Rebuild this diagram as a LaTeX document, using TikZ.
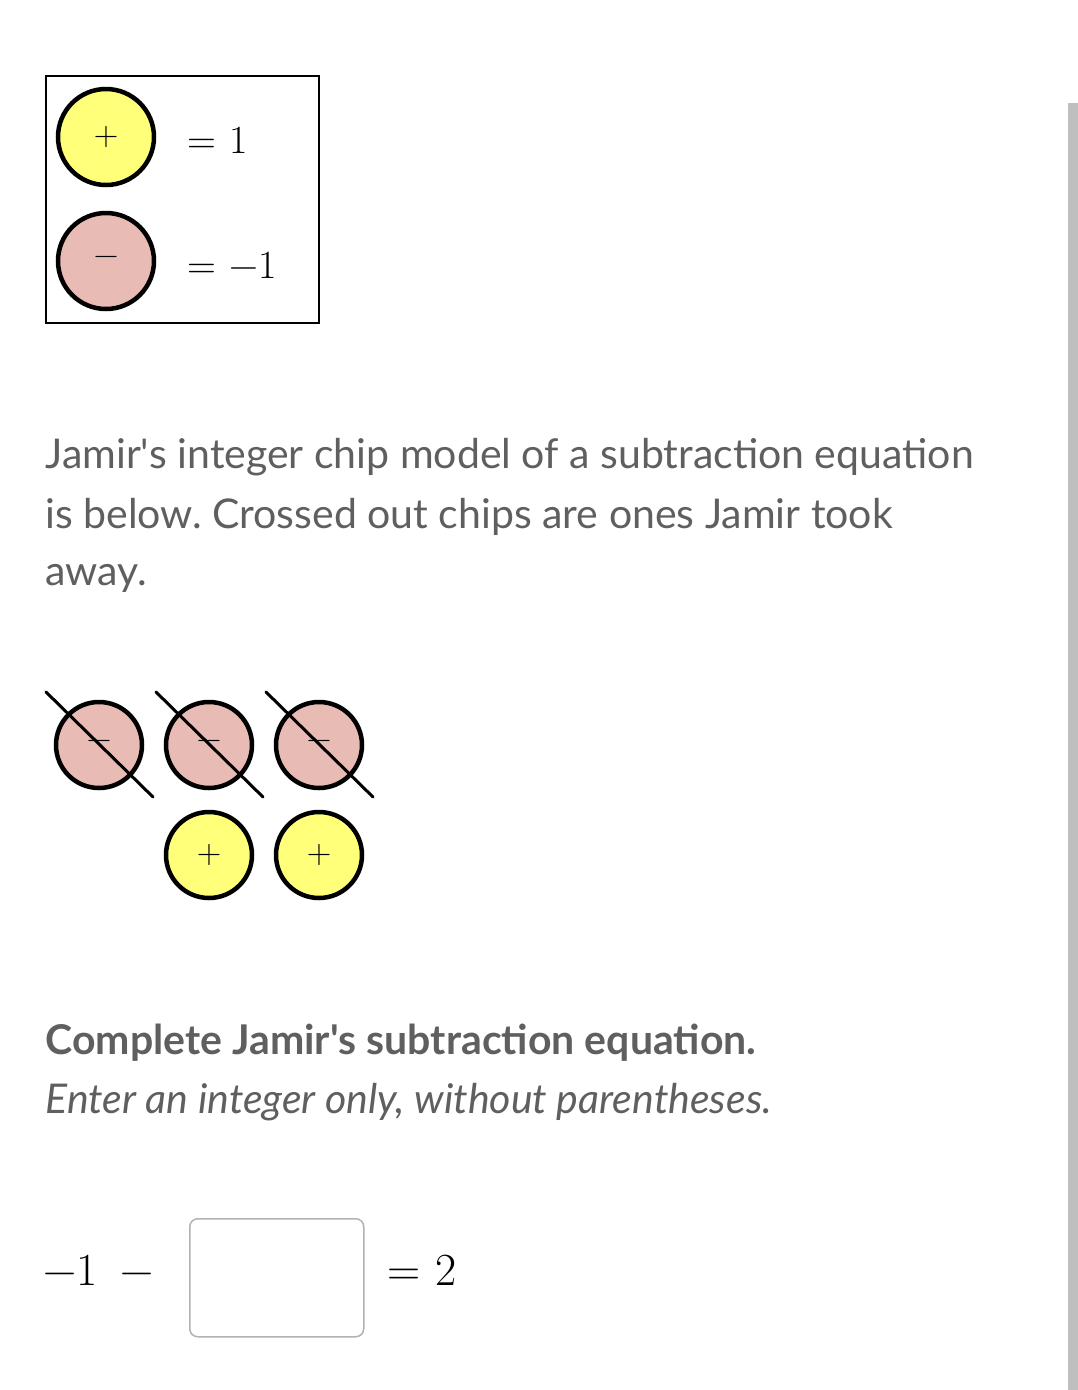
\documentclass[tikz,border=0pt]{standalone}
\usepackage{fontspec}
\setmainfont{Lato}
\newfontfamily\lmr{Latin Modern Roman}
\frenchspacing
\begin{document}
\begin{tikzpicture}[x=1pt,y=-1pt,
  chip/.style={circle,draw=black,line width=4.5pt,minimum size=#1,inner sep=0pt,font=\lmr\fontsize{34}{36}\selectfont},
  pos/.style={chip=#1,fill=yellowchip},
  neg/.style={chip=#1,fill=pinkchip},
  txt/.style={anchor=base west,text=txtgray,font=\fontsize{41}{48}\selectfont},
  cross/.style={line width=3pt,line cap=round}]
\definecolor{yellowchip}{HTML}{FFFF7A}
\definecolor{pinkchip}{HTML}{E8BBB5}
\definecolor{txtgray}{HTML}{5F5F5F}
\useasboundingbox (0,0) rectangle (1078,1390);
\fill[white] (0,0) rectangle (1078,1390);
\fill[gray!50] (1068,103) rectangle (1078,1390);
% legend
\node[draw=black,line width=1.5pt,minimum width=273pt,minimum height=247pt,anchor=north west] (legend) at (45,75) {};
\node[pos=96pt] (lp) at (106,137) {+};
\node[neg=96pt] (ln) at (106,261) {−};
\node[anchor=base west,font=\lmr\fontsize{40}{44}\selectfont] (lpt) at (184,153) {=\,\,1};
\node[anchor=base west,font=\lmr\fontsize{40}{44}\selectfont] (lnt) at (184,278) {=\,\,−1};
% text
\node[txt] (t1) at (42,468) {Jamir\textquotesingle s integer chip model of a subtraction equation};
\node[txt] (t2) at (42,528) {is below. Crossed out chips are ones Jamir took};
\node[txt] (t3) at (42,585) {away.};
% chips
\foreach \i/\x in {1/99,2/209,3/319}{
  \node[neg=86pt] (n\i) at (\x,745) {−};
  \draw[cross] (\x-53,692) -- (\x+54,797);
}
\node[pos=86pt] (p1) at (209,855) {+};
\node[pos=86pt] (p2) at (319,855) {+};
% question
\node[txt,font=\bfseries\fontsize{41}{48}\selectfont] (q1) at (42,1054) {Complete Jamir\textquotesingle s subtraction equation.};
\node[txt,font=\itshape\fontsize{41}{48}\selectfont] (q2) at (42,1113) {Enter an integer only, without parentheses.};
\node[anchor=base west,font=\lmr\fontsize{46}{50}\selectfont] (e1) at (40,1285) {−1\,\,\,−};
\node[draw=gray!60,line width=1.5pt,rounded corners=8pt,minimum width=174pt,minimum height=118pt,anchor=north west] (ans) at (189,1218) {};
\node[anchor=base west,font=\lmr\fontsize{46}{50}\selectfont] (e2) at (384,1285) {=\,\,2};
\end{tikzpicture}
\end{document}
